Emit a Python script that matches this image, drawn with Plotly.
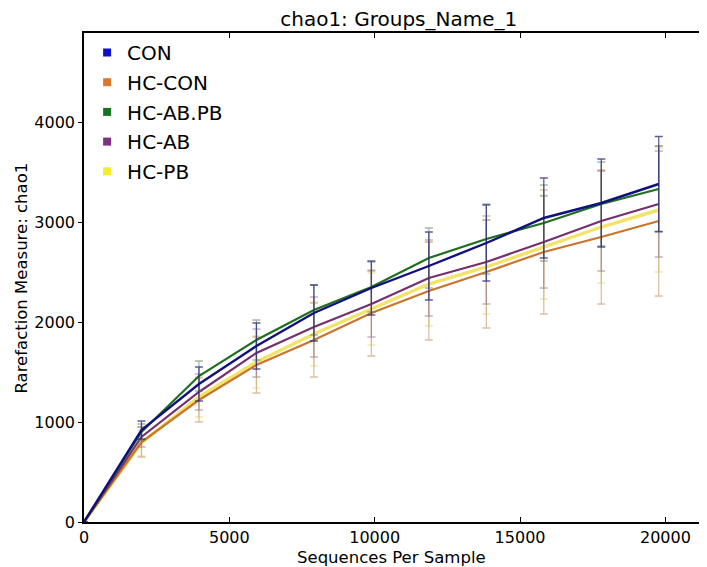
import plotly.graph_objects as go

seqs = [0, 1977, 3954, 5931, 7908, 9885, 11862, 13839, 15816, 17793, 19770]

series_names = ["CON", "HC-CON", "HC-AB.PB", "HC-AB", "HC-PB"]
con = [0, 920, 1380, 1760, 2090, 2340, 2560, 2790, 3040, 3190, 3380]
hc_con = [0, 800, 1220, 1570, 1820, 2090, 2310, 2500, 2700, 2850, 3010]
hc_abpb = [0, 900, 1460, 1820, 2120, 2350, 2640, 2830, 2990, 3180, 3330]
hc_ab = [0, 850, 1300, 1690, 1950, 2180, 2440, 2600, 2800, 3010, 3180]
hc_pb = [0, 790, 1250, 1600, 1880, 2130, 2380, 2550, 2750, 2950, 3120]

con_err = [0, 90, 170, 230, 280, 270, 340, 380, 400, 440, 475]
hc_con_err = [0, 150, 220, 280, 370, 430, 490, 560, 620, 670, 750]
hc_abpb_err = [0, 80, 150, 200, 250, 250, 300, 350, 380, 420, 430]
hc_ab_err = [0, 100, 180, 240, 300, 330, 380, 420, 460, 500, 530]
hc_pb_err = [0, 130, 200, 260, 320, 360, 420, 470, 520, 560, 620]

x_ticks = [0, 5000, 10000, 15000, 20000]
y_ticks = [0, 1000, 2000, 3000, 4000]

FONT = "DejaVu Sans"

styles = {
    "CON": dict(line="#10107e", err="rgba(40,40,120,0.75)", leg="#1010c8", w=2.4),
    "HC-CON": dict(line="#c8752e", err="rgba(200,160,110,0.65)", leg="#d8792e", w=2.2),
    "HC-AB.PB": dict(line="#1f6e1f", err="rgba(90,130,90,0.55)", leg="#15751f", w=2.2),
    "HC-AB": dict(line="#74306f", err="rgba(140,100,140,0.5)", leg="#7d2f84", w=2.2),
    "HC-PB": dict(line="#f2e46a", err="rgba(230,215,130,0.6)", leg="#f2ee2a", w=3.4),
}
data = {
    "CON": (con, con_err),
    "HC-CON": (hc_con, hc_con_err),
    "HC-AB.PB": (hc_abpb, hc_abpb_err),
    "HC-AB": (hc_ab, hc_ab_err),
    "HC-PB": (hc_pb, hc_pb_err),
}

fig = go.Figure()

# draw order: blue on top
for name in ["HC-PB", "HC-CON", "HC-AB", "HC-AB.PB", "CON"]:
    y, e = data[name]
    s = styles[name]
    fig.add_trace(go.Scatter(
        x=seqs, y=y, mode="lines", showlegend=False,
        line=dict(color=s["line"], width=s["w"]),
        error_y=dict(type="data", array=e, visible=True,
                     color=s["err"], thickness=1.3, width=4),
        hoverinfo="skip",
    ))

# legend entries with square markers
for i, name in enumerate(series_names):
    s = styles[name]
    fig.add_trace(go.Scatter(
        x=[None], y=[None], mode="markers", name=name,
        legendgroup=name, legendrank=i,
        marker=dict(symbol="square", size=8, color=s["leg"]),
    ))

fig.update_layout(
    width=699, height=559,
    margin=dict(l=75.5, r=0, t=25, b=45),
    paper_bgcolor="white", plot_bgcolor="white",
    font=dict(family=FONT, color="black", size=16),
    title=dict(text="chao1: Groups_Name_1", x=0.559, xanchor="center",
               y=0.981, yanchor="middle", font=dict(size=20, family=FONT)),
    legend=dict(x=0.005, y=1.0, xanchor="left", yanchor="top",
                bgcolor="rgba(0,0,0,0)", font=dict(size=20, family=FONT),
                traceorder="grouped", tracegroupgap=0.7, itemwidth=30),
    showlegend=True,
    annotations=[
        dict(text="Sequences Per Sample", xref="paper", yref="paper",
             x=0.493, y=-0.072, xanchor="center", yanchor="middle",
             showarrow=False, font=dict(size=16.5, family=FONT)),
        dict(text="Rarefaction Measure: chao1", xref="paper", yref="paper",
             x=-0.1002, y=0.499, xanchor="center", yanchor="middle", textangle=-90,
             showarrow=False, font=dict(size=16.5, family=FONT)),
    ],
)
fig.update_xaxes(
    range=[0, 21430], tickvals=x_ticks, ticktext=[str(v) for v in x_ticks],
    showgrid=False, zeroline=False, showline=True, linecolor="black", linewidth=1.5,
    mirror="ticks", ticks="inside", ticklen=5, tickcolor="black",
    tickfont=dict(size=16, family=FONT), automargin=False,
)
fig.update_yaxes(
    range=[0, 4890], tickvals=y_ticks, ticktext=[str(v) for v in y_ticks],
    showgrid=False, zeroline=False, showline=True, linecolor="black", linewidth=1.5,
    mirror=False, ticks="outside", ticklen=4, tickcolor="black",
    tickfont=dict(size=16, family=FONT), automargin=False,
)

fig.write_html("out.html")
